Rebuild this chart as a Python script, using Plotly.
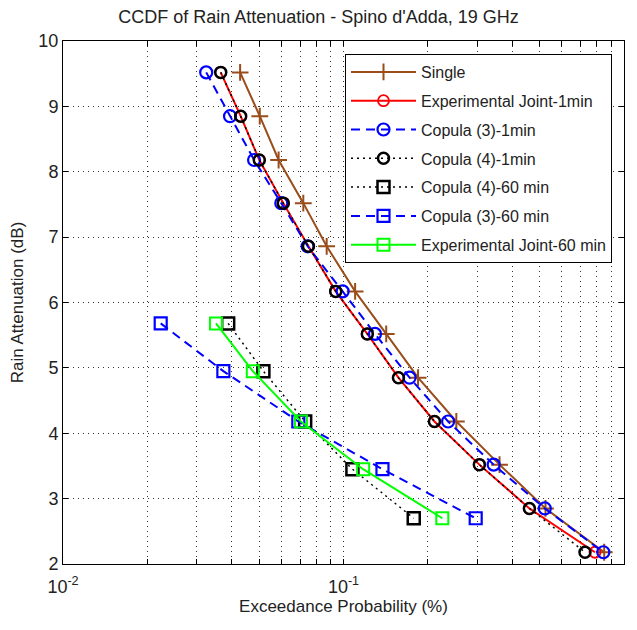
import plotly.graph_objects as go

# ---------------- data ----------------
levels_1min = [9.52, 8.85, 8.18, 7.52, 6.86, 6.17, 5.52, 4.85, 4.18, 3.52, 2.85, 2.18]
levels_60min = [5.68, 4.95, 4.18, 3.45, 2.70]

single = [0.0428, 0.0503, 0.0587, 0.0719, 0.0871, 0.110, 0.142, 0.1844, 0.2525, 0.360, 0.525, 0.850]
exp_joint_1 = [0.0365, 0.0430, 0.0501, 0.0610, 0.0750, 0.0938, 0.1216, 0.157, 0.211, 0.305, 0.460, 0.788]
copula3_1 = [0.0324, 0.0394, 0.0480, 0.0600, 0.0745, 0.0993, 0.1295, 0.172, 0.236, 0.343, 0.522, 0.844]
copula4_1 = [0.0365, 0.0430, 0.0501, 0.0610, 0.0750, 0.0938, 0.1216, 0.157, 0.211, 0.305, 0.460, 0.726]

copula4_60 = [0.0388, 0.0518, 0.0730, 0.1076, 0.178]
copula3_60 = [0.0223, 0.0373, 0.0690, 0.1377, 0.296]
exp_joint_60 = [0.0351, 0.0475, 0.0705, 0.1175, 0.225]

series = [
    ("Single", single, levels_1min, "rgb(153,77,26)", "solid", "cross-thin", 12, 2),
    ("Experimental Joint-1min", exp_joint_1, levels_1min, "rgb(255,0,0)", "solid", "circle-open", 11, 1.8),
    ("Copula (3)-1min", copula3_1, levels_1min, "rgb(0,0,255)", "9px,6px", "circle-open", 12, 2.2),
    ("Copula (4)-1min", copula4_1, levels_1min, "rgb(0,0,0)", "2px,4px", "circle-open", 11, 2.5),
    ("Copula (4)-60 min", copula4_60, levels_60min, "rgb(0,0,0)", "2px,4px", "square-open", 12, 2.5),
    ("Copula (3)-60 min", copula3_60, levels_60min, "rgb(0,0,255)", "9px,6px", "square-open", 12, 2.2),
    ("Experimental Joint-60 min", exp_joint_60, levels_60min, "rgb(0,255,0)", "solid", "square-open", 12, 2),
]

FONT = "Liberation Sans Narrow, Arial Narrow, Liberation Sans, Arial, sans-serif"

fig = go.Figure()
for i, (name, xs, ys, color, dash, sym, msize, lw) in enumerate(series):
    fig.add_trace(go.Scatter(
        x=xs, y=ys, name=name, mode="lines+markers", legendgroup=f"g{i}",
        line=dict(color=color, dash=dash, width=2 if dash != "2px,4px" else 1.5),
        marker=dict(symbol=sym, size=msize, color=color, line=dict(color=color, width=lw)),
    ))

tickvals = []
for dec in [0.01, 0.1]:
    for k in range(1, 10):
        tickvals.append(round(dec * k, 4))
tickvals.append(1.0)
major_labels = {0.01: "10<sup>-2</sup>", 0.1: "10<sup>-1</sup>", 1.0: "10<sup>0</sup>"}
ticktext = [major_labels.get(v, " ") for v in tickvals]

fig.update_layout(
    width=637, height=630,
    margin=dict(l=63, r=13, t=41, b=66),
    paper_bgcolor="white", plot_bgcolor="white",
    font=dict(family=FONT, size=16, color="#222"),
    title=dict(text="CCDF of Rain Attenuation - Spino d'Adda, 19 GHz", x=0.5, xanchor="center",
               y=1 - 17 / 630, yanchor="middle", font=dict(size=18, family=FONT, color="#222")),
    legend=dict(x=(345 - 63) / 561, y=(564 - 54) / 523, xanchor="left", yanchor="top",
                bgcolor="white", bordercolor="black", borderwidth=1,
                font=dict(size=16, family=FONT, color="#222"), tracegroupgap=5,
                itemwidth=65),
    showlegend=True,
)
fig.update_xaxes(
    type="log", range=[-2, 0], tickvals=tickvals, ticktext=ticktext, tickangle=0,
    showgrid=True, gridcolor="rgba(0,0,0,0.8)", griddash="1px,4px", gridwidth=1,
    showline=True, linecolor="black", linewidth=1, mirror="ticks",
    ticks="inside", ticklen=5, tickcolor="black", ticklabelstandoff=6,
    title=dict(text="Exceedance Probability (%)", font=dict(size=17, family=FONT, color="#222"), standoff=4),
    tickfont=dict(size=18, family=FONT, color="#222"), zeroline=False, automargin=False,
)
fig.update_yaxes(
    range=[2, 10], dtick=1, tick0=2,
    showgrid=True, gridcolor="rgba(0,0,0,0.8)", griddash="1px,4px", gridwidth=1,
    showline=True, linecolor="black", linewidth=1, mirror="ticks",
    ticks="inside", ticklen=5, tickcolor="black",
    title=dict(text="Rain Attenuation (dB)", font=dict(size=17, family=FONT, color="#222"), standoff=10),
    tickfont=dict(size=18, family=FONT, color="#222"), zeroline=False, automargin=False,
)

fig.write_html("out.html")
